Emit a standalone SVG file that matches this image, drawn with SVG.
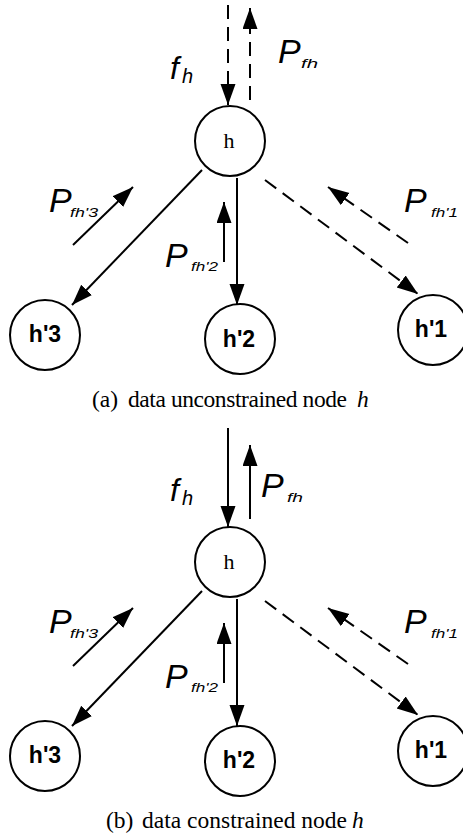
<svg xmlns="http://www.w3.org/2000/svg" width="463" height="835" viewBox="0 0 463 835">
<style>
.ln{stroke:#000;stroke-width:2;fill:none}
.dash{stroke-dasharray:14 8}
.nd{fill:#fff;stroke:#000;stroke-width:2}
.hl{font-family:"Liberation Serif",serif;font-size:22px;text-anchor:middle}
.cl{font-family:"Liberation Sans",Arial,sans-serif;font-weight:bold;font-size:23px;text-anchor:middle}
.P{font-family:"Liberation Sans",Arial,sans-serif;font-style:italic;font-size:34px}
.sub{font-family:"Liberation Sans",Arial,sans-serif;font-style:italic;font-size:13px}
.fh{font-family:"Liberation Sans",Arial,sans-serif;font-style:italic;font-size:32px}
.fs{font-family:"Liberation Sans",Arial,sans-serif;font-style:italic;font-size:20px}
.cap{font-family:"Liberation Serif","Times New Roman",serif;font-size:23.5px}
</style>
<defs>
<marker id="ah" markerUnits="userSpaceOnUse" markerWidth="22" markerHeight="16" refX="21" refY="7.5" orient="auto">
<path d="M0,0 L21,7.5 L0,15 z" fill="#000" stroke="none"/>
</marker>
</defs>

<g id="connectors-a">
<line class="ln dash" x1="228" y1="5" x2="228" y2="105" marker-end="url(#ah)"/>
<line class="ln dash" x1="250" y1="100" x2="250" y2="8" marker-end="url(#ah)"/>
<line class="ln" x1="202" y1="170" x2="72" y2="305" marker-end="url(#ah)"/>
<line class="ln" x1="73" y1="245" x2="133" y2="187" marker-end="url(#ah)"/>
<line class="ln" x1="237" y1="178" x2="237" y2="305" marker-end="url(#ah)"/>
<line class="ln" x1="224" y1="262" x2="224" y2="202" marker-end="url(#ah)"/>
<line class="ln dash" x1="265" y1="180" x2="418" y2="294" marker-end="url(#ah)"/>
<line class="ln dash" x1="408" y1="243" x2="328" y2="187" marker-end="url(#ah)"/>
</g>

<g id="labels-a">
<text class="fh" x="170" y="79">f</text><text class="fs" x="182" y="83">h</text>
<text class="P" x="278" y="63">P</text><text class="sub" x="301" y="68" textLength="17" lengthAdjust="spacingAndGlyphs">fh</text>
<text class="P" x="49" y="212">P</text><text class="sub" x="70" y="217" textLength="28" lengthAdjust="spacingAndGlyphs">fh'3</text>
<text class="P" x="165" y="267">P</text><text class="sub" x="191" y="271" textLength="27" lengthAdjust="spacingAndGlyphs">fh'2</text>
<text class="P" x="404" y="212">P</text><text class="sub" x="431" y="217" textLength="27" lengthAdjust="spacingAndGlyphs">fh'1</text>
</g>

<g id="a-h"><circle class="nd" cx="230" cy="141" r="35"/><text class="hl" x="229" y="148">h</text></g>
<g id="a-h3"><circle class="nd" cx="45" cy="335" r="35"/><text class="cl" x="45" y="342">h'3</text></g>
<g id="a-h2"><circle class="nd" cx="240" cy="339" r="35"/><text class="cl" x="239" y="347">h'2</text></g>
<g id="a-h1"><circle class="nd" cx="433" cy="330" r="35"/><text class="cl" x="431" y="337">h'1</text></g>

<g id="caption-a">
<text class="cap" x="92" y="407">(a)</text>
<text class="cap" x="128" y="407" textLength="219" lengthAdjust="spacing">data unconstrained node</text>
<text class="cap" x="357" y="407" font-style="italic">h</text>
</g>

<g id="connectors-b">
<line class="ln" x1="228" y1="428" x2="228" y2="527" marker-end="url(#ah)"/>
<line class="ln" x1="250" y1="519" x2="250" y2="445" marker-end="url(#ah)"/>
<line class="ln" x1="202" y1="591" x2="72" y2="726" marker-end="url(#ah)"/>
<line class="ln" x1="73" y1="666" x2="133" y2="608" marker-end="url(#ah)"/>
<line class="ln" x1="237" y1="599" x2="237" y2="726" marker-end="url(#ah)"/>
<line class="ln" x1="224" y1="683" x2="224" y2="623" marker-end="url(#ah)"/>
<line class="ln dash" x1="265" y1="601" x2="418" y2="715" marker-end="url(#ah)"/>
<line class="ln dash" x1="408" y1="664" x2="328" y2="608" marker-end="url(#ah)"/>
</g>

<g id="labels-b">
<text class="fh" x="170" y="501">f</text><text class="fs" x="182" y="505">h</text>
<text class="P" x="261" y="497">P</text><text class="sub" x="287" y="502" textLength="16" lengthAdjust="spacingAndGlyphs">fh</text>
<text class="P" x="49" y="633">P</text><text class="sub" x="70" y="638" textLength="28" lengthAdjust="spacingAndGlyphs">fh'3</text>
<text class="P" x="165" y="688">P</text><text class="sub" x="191" y="692" textLength="27" lengthAdjust="spacingAndGlyphs">fh'2</text>
<text class="P" x="404" y="633">P</text><text class="sub" x="431" y="638" textLength="27" lengthAdjust="spacingAndGlyphs">fh'1</text>
</g>

<g id="b-h"><circle class="nd" cx="230" cy="562" r="35"/><text class="hl" x="229" y="569">h</text></g>
<g id="b-h3"><circle class="nd" cx="45" cy="756" r="35"/><text class="cl" x="45" y="763">h'3</text></g>
<g id="b-h2"><circle class="nd" cx="240" cy="761" r="35"/><text class="cl" x="239" y="768">h'2</text></g>
<g id="b-h1"><circle class="nd" cx="433" cy="751" r="35"/><text class="cl" x="431" y="758">h'1</text></g>

<g id="caption-b">
<text class="cap" x="106" y="828">(b)</text>
<text class="cap" x="142" y="828" textLength="205" lengthAdjust="spacing">data constrained node</text>
<text class="cap" x="352" y="828" font-style="italic">h</text>
</g>
</svg>
